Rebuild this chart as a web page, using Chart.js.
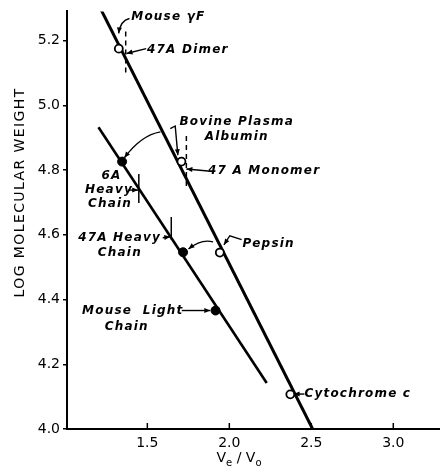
<!DOCTYPE html>
<html>
<head>
<meta charset="utf-8">
<script src="https://cdn.jsdelivr.net/npm/chart.js@4.4.1/dist/chart.umd.min.js"></script>
<style>
  html, body { margin: 0; padding: 0; background: #fff; }
</style>
</head>
<body>
<canvas id="chart" width="445" height="475"></canvas>
<script>
// values (Ve/V0 vs log MW)
const openX = [1.326, 1.708, 1.942, 2.372];
const openY = [5.175, 4.826, 4.545, 4.107];
const filledX = [1.346, 1.718, 1.916];
const filledY = [4.826, 4.546, 4.366];
const proteinLineX = [1.203, 2.508];
const proteinLineY = [5.31, 4.0];
const chainLineX = [1.202, 2.228];
const chainLineY = [4.932, 4.142];
const solidMarkX = [1.448, 1.646];
const solidMarkTop = [4.788, 4.655];
const solidMarkBottom = [4.698, 4.585];
const dashMarkX = [1.368, 1.738];
const dashMarkTop = [5.228, 4.905];
const dashMarkBottom = [5.089, 4.742];
const xTicks = [1.5, 2.0, 2.5, 3.0];
const yTicks = [4.0, 4.2, 4.4, 4.6, 4.8, 5.0, 5.2];

// annotation labels (left edge, middle), in data units
const labelText = ['Mouse γF', '47A Dimer', 'Bovine Plasma', 'Albumin', '47 A Monomer', '6A', 'Heavy', 'Chain',
  '47A Heavy', 'Chain', 'Pepsin', 'Mouse  Light', 'Chain', 'Cytochrome c'];
const labelX = [1.402, 1.498, 1.696, 1.850, 1.870, 1.220, 1.120, 1.138, 1.078, 1.198, 2.081, 1.102, 1.240, 2.458];
const labelY = [5.274, 5.172, 4.948, 4.902, 4.797, 4.782, 4.738, 4.695, 4.591, 4.545, 4.572, 4.366, 4.317, 4.108];

// leader arrows, head at the last point
const arrowPaths = [
  [[1.391, 5.268], [1.336, 5.262], [1.325, 5.222]],
  [[1.493, 5.175], [1.373, 5.160]],
  [[1.640, 4.928], [1.670, 4.936], [1.686, 4.846]],
  [[1.580, 4.918], [1.463, 4.908], [1.360, 4.838]],
  [[1.870, 4.797], [1.738, 4.803]],
  [[1.384, 4.738], [1.444, 4.738]],
  [[1.594, 4.591], [1.640, 4.594]],
  [[2.075, 4.585], [2.003, 4.597], [1.967, 4.569]],
  [[1.901, 4.578], [1.829, 4.588], [1.751, 4.556]],
  [[1.710, 4.366], [1.884, 4.366]],
  [[2.458, 4.108], [2.392, 4.108]]
];
const arrowCurved = [true, false, false, true, false, false, false, false, true, false, false];

const pts = (xs, ys) => xs.map((v, i) => ({ x: v, y: ys[i] }));

const datasets = [
  { data: pts(openX, openY), pointRadius: 4, pointBorderWidth: 1.8, pointBorderColor: '#000', pointBackgroundColor: '#fff' },
  { data: pts(filledX, filledY), pointRadius: 4.5, pointBorderWidth: 1, pointBorderColor: '#000', pointBackgroundColor: '#000' },
  { data: pts(proteinLineX, proteinLineY), showLine: true, borderColor: '#000', borderWidth: 3, pointRadius: 0 },
  { data: pts(chainLineX, chainLineY), showLine: true, borderColor: '#000', borderWidth: 2.6, pointRadius: 0 }
];
solidMarkX.forEach((v, i) => datasets.push({
  data: [{ x: v, y: solidMarkTop[i] }, { x: v, y: solidMarkBottom[i] }],
  showLine: true, borderColor: '#000', borderWidth: 1.5, pointRadius: 0
}));
dashMarkX.forEach((v, i) => datasets.push({
  data: [{ x: v, y: dashMarkTop[i] }, { x: v, y: dashMarkBottom[i] }],
  showLine: true, borderColor: '#000', borderWidth: 1.5, borderDash: [5, 4], pointRadius: 0
}));

const annotate = {
  id: 'annotate',
  afterDraw(chart) {
    const { ctx, chartArea, scales: { x, y } } = chart;
    const px = v => x.getPixelForValue(v), py = v => y.getPixelForValue(v);
    ctx.save();
    ctx.strokeStyle = '#000';
    ctx.fillStyle = '#000';

    // x tick marks point inward
    ctx.lineWidth = 1.5;
    xTicks.forEach(t => {
      ctx.beginPath();
      ctx.moveTo(px(t), chartArea.bottom);
      ctx.lineTo(px(t), chartArea.bottom - 6);
      ctx.stroke();
    });

    ctx.font = 'italic bold 12px "DejaVu Sans"';
    ctx.letterSpacing = '1.2px';
    ctx.textBaseline = 'middle';
    ctx.textAlign = 'left';
    labelText.forEach((t, i) => ctx.fillText(t, px(labelX[i]), py(labelY[i])));
    ctx.letterSpacing = '0px';

    ctx.lineWidth = 1.4;
    arrowPaths.forEach((p, i) => {
      const q = p.map(([a, b]) => [px(a), py(b)]);
      ctx.beginPath();
      ctx.moveTo(q[0][0], q[0][1]);
      if (arrowCurved[i]) ctx.quadraticCurveTo(q[1][0], q[1][1], q[2][0], q[2][1]);
      else q.slice(1).forEach(r => ctx.lineTo(r[0], r[1]));
      ctx.stroke();
      const [ex, ey] = q[q.length - 1], [sx, sy] = q[q.length - 2];
      const a = Math.atan2(ey - sy, ex - sx), c = Math.cos(a), s = Math.sin(a);
      ctx.beginPath();
      ctx.moveTo(ex, ey);
      ctx.lineTo(ex - 6 * c + 2.5 * s, ey - 6 * s - 2.5 * c);
      ctx.lineTo(ex - 6 * c - 2.5 * s, ey - 6 * s + 2.5 * c);
      ctx.closePath();
      ctx.fill();
    });

    // axis titles
    ctx.save();
    ctx.translate(20, chartArea.top + 181);
    ctx.rotate(-Math.PI / 2);
    ctx.font = '14px "DejaVu Sans"';
    ctx.letterSpacing = '1.4px';
    ctx.textAlign = 'center';
    ctx.fillText('LOG MOLECULAR WEIGHT', 0, 0);
    ctx.restore();

    const big = '14px "DejaVu Sans"', small = '10px "DejaVu Sans"';
    const parts = [['V', big, 0], ['e', small, 4], [' / ', big, 0], ['V', big, 0], ['o', small, 4]];
    ctx.textBaseline = 'alphabetic';
    ctx.textAlign = 'left';
    let w = 0;
    parts.forEach(([t, f]) => { ctx.font = f; w += ctx.measureText(t).width; });
    let cx = 239 - w / 2;
    parts.forEach(([t, f, dy]) => { ctx.font = f; ctx.fillText(t, cx, 462 + dy); cx += ctx.measureText(t).width; });
    ctx.restore();
  }
};

new Chart(document.getElementById('chart').getContext('2d'), {
  type: 'scatter',
  data: { datasets },
  options: {
    responsive: false,
    animation: false,
    layout: { padding: { top: 10, right: 0, left: 0, bottom: 0 } },
    plugins: { legend: { display: false }, tooltip: { enabled: false } },
    scales: {
      x: {
        type: 'linear', min: 1.01, max: 3.28,
        afterFit: s => { s.height = 46; },
        afterBuildTicks: s => { s.ticks = xTicks.map(v => ({ value: v })); },
        grid: { display: false, drawTicks: false },
        border: { display: true, color: '#000', width: 2 },
        ticks: { color: '#000', padding: 6, font: { family: 'DejaVu Sans', size: 14 }, callback: v => v.toFixed(1) }
      },
      y: {
        type: 'linear', min: 4.0, max: 5.29,
        afterFit: s => { s.width = 67; },
        afterBuildTicks: s => { s.ticks = yTicks.map(v => ({ value: v })); },
        grid: { drawOnChartArea: false, drawTicks: true, tickLength: 4, color: '#000', lineWidth: 1.5 },
        border: { display: true, color: '#000', width: 2 },
        ticks: { color: '#000', padding: 3, font: { family: 'DejaVu Sans', size: 14 }, callback: v => v.toFixed(1) }
      }
    }
  },
  plugins: [annotate]
});
</script>
</body>
</html>
